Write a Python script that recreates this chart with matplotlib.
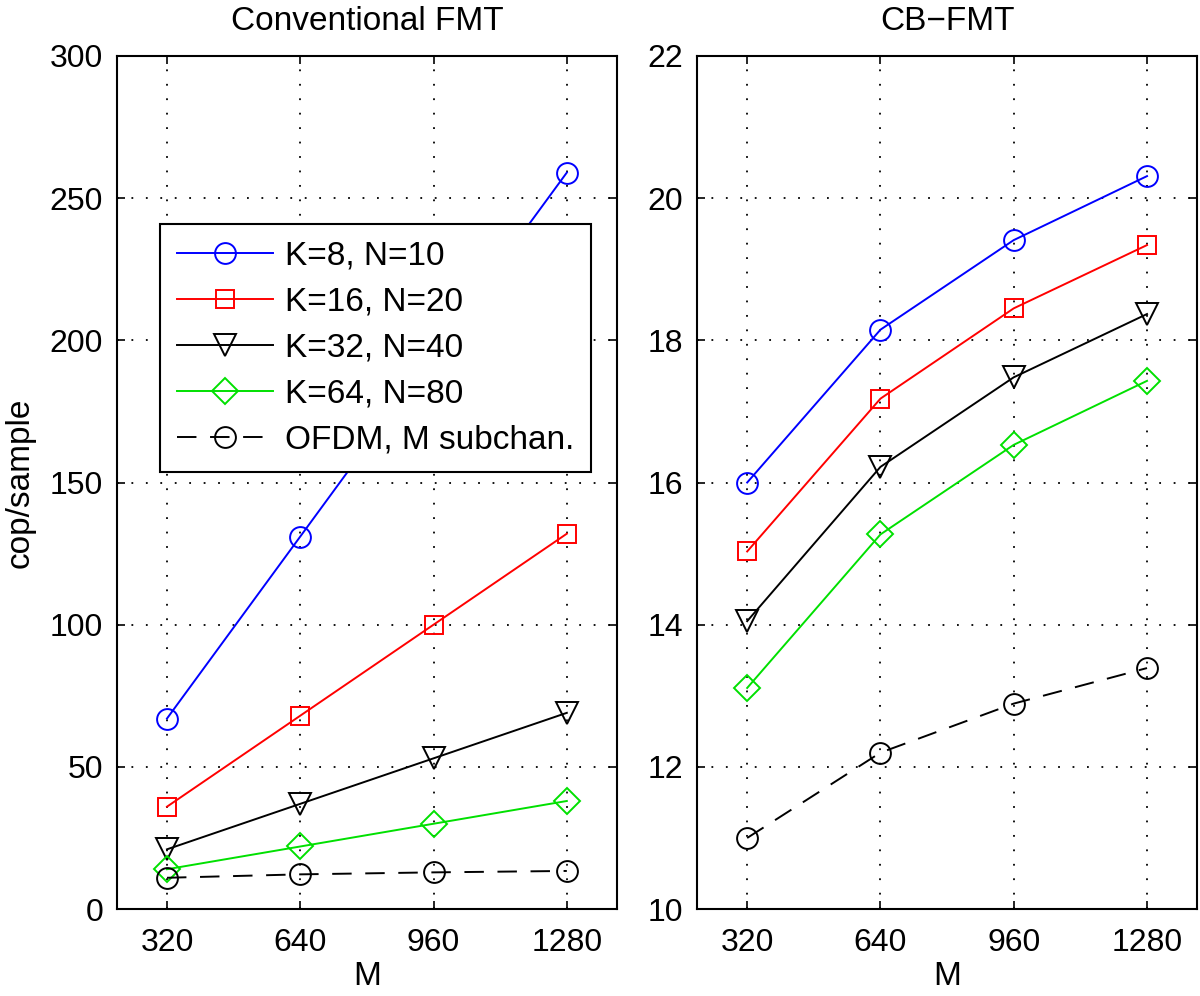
import matplotlib
matplotlib.use("Agg")
import matplotlib.pyplot as plt

plt.rcParams['font.family'] = ['Liberation Sans', 'DejaVu Sans']

M = [320, 640, 960, 1280]
labels = ["K=8, N=10", "K=16, N=20", "K=32, N=40", "K=64, N=80", "OFDM, M subchan."]

conv_k8 = [67, 131, 195, 259]
conv_k16 = [36, 68, 100, 132]
conv_k32 = [21, 37, 53, 69]
conv_k64 = [14, 22, 30, 38]
conv_ofdm = [11.0, 12.2, 12.9, 13.4]

cb_k8 = [16.0, 18.15, 19.41, 20.31]
cb_k16 = [15.03, 17.18, 18.45, 19.34]
cb_k32 = [14.05, 16.22, 17.48, 18.37]
cb_k64 = [13.11, 15.27, 16.53, 17.43]
cb_ofdm = [11.0, 12.2, 12.89, 13.39]

styles = [
    dict(color='#0000ff', marker='o', ms=15, ls='-'),
    dict(color='#ff0000', marker='s', ms=13, ls='-'),
    dict(color='black', marker='v', ms=16, ls='-'),
    dict(color='#00e000', marker='D', ms=13, ls='-'),
    dict(color='black', marker='o', ms=15, ls=(0, (10, 7))),
]

FS_TICK = 23
FS_TEXT = 24

fig = plt.figure(figsize=(12, 9.96), dpi=100)
ax1 = fig.add_axes([0.0975, 0.0873, 0.4165, 0.8565])
ax2 = fig.add_axes([0.581, 0.0873, 0.4165, 0.8565])

def draw(ax, series, ylim, yticks, title):
    handles = []
    for s, st in zip(series, styles):
        h, = ax.plot(M, s, color=st['color'], marker=st['marker'], markersize=st['ms'],
                     linestyle=st['ls'], linewidth=1.4, markerfacecolor='none',
                     markeredgecolor=st['color'], markeredgewidth=1.4)
        handles.append(h)
    ax.set_xlim(200, 1400)
    ax.set_ylim(*ylim)
    ax.set_xticks(M)
    ax.set_yticks(yticks)
    ax.grid(True, color='black', linestyle=(0, (1, 7)), linewidth=1.3)
    ax.tick_params(direction='in', top=True, right=True, labelsize=FS_TICK, length=6, width=1.2)
    ax.tick_params(axis='x', pad=14)
    ax.tick_params(axis='y', pad=10)
    for sp in ax.spines.values():
        sp.set_linewidth(1.5)
    ax.set_title(title, fontsize=FS_TEXT, pad=19)
    ax.set_xlabel('M', fontsize=FS_TEXT, labelpad=2)
    return handles

h = draw(ax1, [conv_k8, conv_k16, conv_k32, conv_k64, conv_ofdm], (0, 300),
         [0, 50, 100, 150, 200, 250, 300], 'Conventional FMT')
draw(ax2, [cb_k8, cb_k16, cb_k32, cb_k64, cb_ofdm], (10, 22),
     [10, 12, 14, 16, 18, 20, 22], 'CB\u2212FMT')
ax1.set_ylabel('cop/sample', fontsize=FS_TEXT, labelpad=10)

leg = ax1.legend(h, labels, loc='upper left', bbox_to_anchor=(0.086, 0.803),
                 fontsize=FS_TEXT, handlelength=2.9, fancybox=False, framealpha=1,
                 edgecolor='black', borderaxespad=0, handletextpad=0.35,
                 labelspacing=0.45, borderpad=0.5)
leg.get_frame().set_linewidth(1.5)

fig.savefig('out.png', dpi=100)
